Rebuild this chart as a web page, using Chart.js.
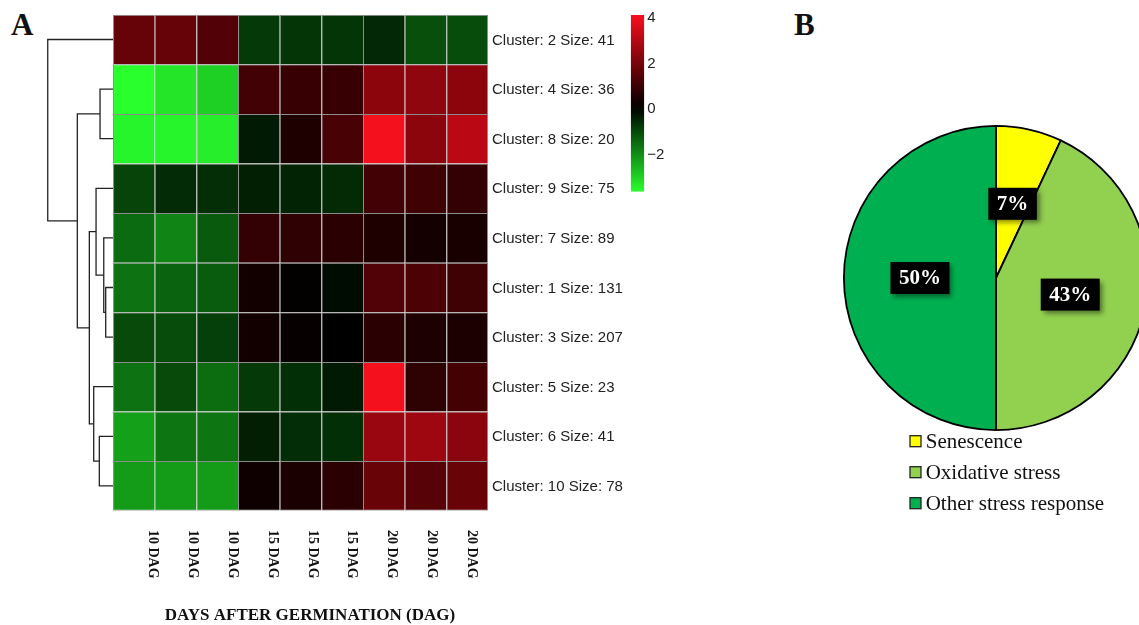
<!DOCTYPE html>
<html>
<head>
<meta charset="utf-8">
<script src="https://cdn.jsdelivr.net/npm/chart.js@4.4.0/dist/chart.umd.min.js"></script>
<style>
html, body { margin: 0; padding: 0; width: 1139px; height: 625px; overflow: hidden; background: #fff; }
.box { position: absolute; }
.panel { position: absolute; font: bold 31px/31px "Liberation Serif"; color: #111; }
</style>
</head>
<body>
<div class="panel" style="left:11px;top:9px">A</div>
<div class="panel" style="left:794px;top:9px">B</div>
<div class="box" style="left:0;top:0;width:630px;height:625px"><canvas id="heat"></canvas></div>
<div class="box" style="left:620px;top:0;width:60px;height:210px"><canvas id="colorbar"></canvas></div>
<div class="box" style="left:830px;top:118px;width:332px;height:400px"><canvas id="pie"></canvas></div>

<script>
// ---- data ----
var clusters = [
    'Cluster: 2 Size: 41', 'Cluster: 4 Size: 36', 'Cluster: 8 Size: 20',
    'Cluster: 9 Size: 75', 'Cluster: 7 Size: 89', 'Cluster: 1 Size: 131',
    'Cluster: 3 Size: 207', 'Cluster: 5 Size: 23', 'Cluster: 6 Size: 41',
    'Cluster: 10 Size: 78'
];
var dagLabels = ['10 DAG', '10 DAG', '10 DAG', '15 DAG', '15 DAG', '15 DAG', '20 DAG', '20 DAG', '20 DAG'];

// expression (row = cluster, col = sample)
var expr = [
    [ 1.65,  1.65,  1.34, -0.84, -0.77, -0.77, -0.58, -1.15, -1.10],
    [-3.70, -3.32, -3.02,  1.08,  0.90,  0.90,  2.29,  2.35,  2.29],
    [-3.55, -3.55, -3.45, -0.38,  0.50,  1.18,  4.00,  2.29,  3.04],
    [-0.99, -0.64, -0.67, -0.45, -0.52, -0.61,  1.08,  1.04,  0.83],
    [-1.55, -1.93, -1.31,  0.83,  0.78,  0.69,  0.49,  0.33,  0.39],
    [-1.65, -1.45, -1.32,  0.29,  0.05, -0.17,  1.31,  1.24,  1.01],
    [-1.07, -1.10, -0.91,  0.29,  0.10,  0.00,  0.70,  0.47,  0.46],
    [-1.65, -1.07, -1.57, -0.84, -0.68, -0.38,  4.00,  0.75,  1.11],
    [-2.32, -1.71, -1.71, -0.45, -0.65, -0.68,  2.51,  2.58,  2.25],
    [-2.26, -2.26, -2.26,  0.24,  0.42,  0.69,  1.70,  1.40,  1.70]
];

// dendrogram, hclust style: negative = leaf (row+1), positive = earlier merge
var mergeA = [-6, -5, -2, -9, -4, -8, 5, 3, -1];
var mergeB = [-7,  1, -3, -10, 2,  4, 6, 7,  8];
var mergeHeight = [0.112, 0.142, 0.199, 0.210, 0.260, 0.296, 0.363, 0.547, 1.0];

var colorTicks = [4, 2, 0, -2];
var colorMin = -3.7, colorMax = 4.07;

var pieLabels = ['Senescence', 'Oxidative stress', 'Other stress response'];
var pieValues = [7, 43, 50];
var pieColors = ['#FFFF00', '#92D050', '#00B050'];

Chart.defaults.font.family = '"Liberation Sans", Arial, sans-serif';
Chart.defaults.animation = false;
Chart.defaults.events = [];

function heatColor(v) {
    var t;
    if (v >= 0) {
        t = Math.min(v / 4, 1);
        return 'rgb(' + Math.round(245 * t) + ',' + Math.round(16 * t * t) + ',' + Math.round(30 * Math.pow(t, 1.5)) + ')';
    }
    t = Math.min(-v / 3.7, 1);
    return 'rgb(' + Math.round(42 * Math.pow(t, 1.5)) + ',' + Math.round(255 * t) + ',' + Math.round(46 * Math.pow(t, 1.2)) + ')';
}

// ---- heatmap + dendrogram ----
var datasets = [];
dagLabels.forEach(function (lab, c) {
    datasets.push({
        type: 'bar',
        indexAxis: 'y',
        grouped: false,
        data: clusters.map(function (_, r) { return {y: r, x: [c, c + 1]}; }),
        backgroundColor: expr.map(function (row) { return heatColor(row[c]); }),
        borderColor: '#8c8c8c',
        borderSkipped: false,
        inflateAmount: 0,
        borderWidth: function (ctx) {
            return {left: 1, top: 1, right: c === dagLabels.length - 1 ? 1 : 0, bottom: ctx.dataIndex === clusters.length - 1 ? 1 : 0};
        },
        barPercentage: 1,
        categoryPercentage: 1
    });
});

var dendroSpan = 1.567; // width of the tree in column units
var nodeY = [], nodeH = [];
function childPos(k) {
    if (k < 0) return {y: -k - 1, h: 0};
    return {y: nodeY[k - 1], h: nodeH[k - 1]};
}
mergeHeight.forEach(function (h, i) {
    var a = childPos(mergeA[i]), b = childPos(mergeB[i]);
    nodeY.push((a.y + b.y) / 2);
    nodeH.push(h);
    datasets.push({
        type: 'line',
        data: [
            {x: -a.h * dendroSpan, y: a.y},
            {x: -h * dendroSpan, y: a.y},
            {x: -h * dendroSpan, y: b.y},
            {x: -b.h * dendroSpan, y: b.y}
        ],
        borderColor: '#222',
        borderWidth: 1.3,
        pointRadius: 0,
        fill: false,
        tension: 0
    });
});

var heatText = {
    id: 'heatText',
    afterDraw: function (chart) {
        var ctx = chart.ctx, xs = chart.scales.x;
        ctx.save();
        ctx.fillStyle = '#111';
        ctx.font = 'bold 14px "Liberation Serif"';
        ctx.textAlign = 'left';
        ctx.textBaseline = 'middle';
        dagLabels.forEach(function (t, i) {
            var px = xs.getPixelForValue(0.96 + i * 0.955);
            ctx.save();
            ctx.translate(px, 530);
            ctx.rotate(Math.PI / 2);
            ctx.fillText(t, 0, 0);
            ctx.restore();
        });
        ctx.font = 'bold 17px "Liberation Serif"';
        ctx.textAlign = 'center';
        ctx.fillText('DAYS AFTER GERMINATION (DAG)', 310, 616);
        ctx.restore();
    }
};

new Chart(document.getElementById('heat'), {
    type: 'bar',
    data: {datasets: datasets},
    options: {
        responsive: true,
        maintainAspectRatio: false,
        layout: {padding: {left: 29.7, right: 0, top: 14.7, bottom: 114.3}},
        plugins: {legend: {display: false}, tooltip: {enabled: false}},
        scales: {
            x: {type: 'linear', min: -2, max: 9, offset: false, display: false},
            y: {
                type: 'linear', min: -0.5, max: 9.5, reverse: true, position: 'right', offset: false,
                grid: {display: false, drawTicks: false, offset: false},
                border: {display: false},
                afterBuildTicks: function (s) { s.ticks = clusters.map(function (_, i) { return {value: i}; }); },
                afterFit: function (s) { s.width = 142; },
                ticks: {
                    padding: 4, color: '#222', autoSkip: false, labelOffset: 1,
                    font: {size: 15},
                    callback: function (v) { return clusters[v]; }
                }
            }
        }
    },
    plugins: [heatText]
});

// ---- colour key ----
new Chart(document.getElementById('colorbar'), {
    type: 'bar',
    data: {
        labels: ['key'],
        datasets: [{
            data: [[colorMin, colorMax]],
            barPercentage: 1,
            categoryPercentage: 1,
            borderWidth: 0,
            inflateAmount: 0,
            backgroundColor: function (c) {
                var ys = c.chart.scales.y;
                if (!c.chart.chartArea || !ys) return null;
                var g = c.chart.ctx.createLinearGradient(0, ys.getPixelForValue(colorMin), 0, ys.getPixelForValue(colorMax));
                for (var k = 0; k <= 20; k++) {
                    g.addColorStop(k / 20, heatColor(colorMin + (colorMax - colorMin) * k / 20));
                }
                return g;
            }
        }]
    },
    options: {
        responsive: true,
        maintainAspectRatio: false,
        layout: {padding: {left: 10.7, right: 0, top: 15, bottom: 18.3}},
        plugins: {legend: {display: false}, tooltip: {enabled: false}},
        scales: {
            x: {display: false},
            y: {
                min: colorMin, max: colorMax, position: 'right',
                grid: {display: false, drawTicks: false},
                border: {display: false},
                afterBuildTicks: function (s) { s.ticks = colorTicks.map(function (v) { return {value: v}; }); },
                afterFit: function (s) { s.width = 35.7; },
                ticks: {
                    padding: 3, color: '#222', font: {size: 15}, labelOffset: 1.5,
                    callback: function (v) { return v < 0 ? '\u2212' + (-v) : '' + v; }
                }
            }
        }
    }
});

// ---- pie ----
var pieText = {
    id: 'pieText',
    afterDraw: function (chart) {
        var ctx = chart.ctx;
        var arcs = chart.getDatasetMeta(0).data;
        ctx.save();
        ctx.font = 'bold 21px "Liberation Serif"';
        ctx.textAlign = 'center';
        ctx.textBaseline = 'middle';
        arcs.forEach(function (arc, i) {
            var p = arc.getCenterPoint();
            var txt = pieValues[i] + '%';
            var w = ctx.measureText(txt).width + 17, h = 32;
            ctx.save();
            ctx.shadowColor = 'rgba(0,0,0,0.45)';
            ctx.shadowBlur = 5;
            ctx.shadowOffsetX = 3;
            ctx.shadowOffsetY = 3;
            ctx.fillStyle = '#000';
            ctx.fillRect(p.x - w / 2, p.y - h / 2, w, h);
            ctx.restore();
            ctx.fillStyle = '#fff';
            ctx.fillText(txt, p.x, p.y + 1);
        });
        // legend
        ctx.font = '21px "Liberation Serif"';
        ctx.textAlign = 'left';
        pieLabels.forEach(function (lab, i) {
            var y = 323.2 + i * 31;
            ctx.fillStyle = pieColors[i];
            ctx.fillRect(80, y - 5.5, 11, 11);
            ctx.strokeStyle = '#222';
            ctx.lineWidth = 1.3;
            ctx.strokeRect(80, y - 5.5, 11, 11);
            ctx.fillStyle = '#111';
            ctx.fillText(lab, 95.7, y + 1);
        });
        ctx.restore();
    }
};

new Chart(document.getElementById('pie'), {
    type: 'pie',
    data: {
        labels: pieLabels,
        datasets: [{
            data: pieValues,
            backgroundColor: pieColors,
            borderColor: '#000',
            borderWidth: 1.8,
            hoverOffset: 0
        }]
    },
    options: {
        responsive: true,
        maintainAspectRatio: false,
        layout: {padding: {left: 13, right: 13, top: 7, bottom: 87}},
        plugins: {legend: {display: false}, tooltip: {enabled: false}}
    },
    plugins: [pieText]
});
</script>
</body>
</html>
